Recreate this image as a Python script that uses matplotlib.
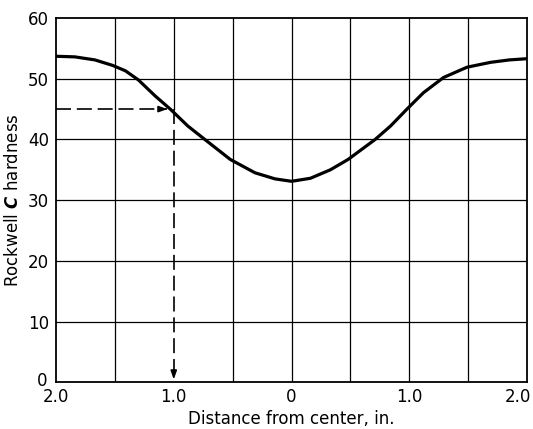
import matplotlib
matplotlib.use('Agg')
from matplotlib import pyplot as plt
from matplotlib.transforms import ScaledTranslation
import numpy as np

# hardness profile across the bar
dist = [-2.0, -1.84, -1.67, -1.52, -1.41, -1.30, -1.16, -1.03, -0.88, -0.73,
        -0.52, -0.31, -0.14, 0.0, 0.16, 0.33, 0.48, 0.71, 0.84, 0.98,
        1.12, 1.29, 1.49, 1.69, 1.85, 2.0]
hardness = [53.7, 53.6, 53.1, 52.2, 51.3, 49.8, 47.2, 45.0, 42.2, 39.9,
            36.7, 34.5, 33.5, 33.1, 33.6, 35.0, 36.7, 40.0, 42.2, 45.0,
            47.7, 50.2, 51.9, 52.7, 53.1, 53.3]

x_ticks = [-2, -1, 0, 1, 2]
x_labels = ['2.0', '1.0', '0', '1.0', '2.0']
y_ticks = [0, 10, 20, 30, 40, 50, 60]

# reading example: 45 HRC -> 1.0 in. from center
read_y = 45
read_x = -1.0

plt.rcParams['font.family'] = ['DejaVu Sans']
fig = plt.figure(figsize=(5.33, 4.29), dpi=100)
ax = fig.add_axes([0.105, 0.109, 0.884, 0.849])

ax.set_xlim(-2, 2)
ax.set_ylim(0, 60)

# grid drawn by hand: the line at the read-off point is dashed below the curve
for gx in np.arange(-1.5, 2.0, 0.5):
    if gx == read_x:
        ax.axvline(gx, ymin=read_y / 60, color='black', lw=0.9, zorder=1)
    else:
        ax.axvline(gx, color='black', lw=0.9, zorder=1)
for gy in y_ticks[1:-1]:
    ax.axhline(gy, color='black', lw=0.9, zorder=1)

ax.plot(dist, hardness, color='black', lw=2.3, solid_capstyle='round',
        solid_joinstyle='round', zorder=3)

# dashed reading lines with arrowheads
ax.plot([-2, read_x - 0.06], [read_y, read_y], color='black', lw=1.2, dashes=(9, 3.5))
ax.plot([read_x, read_x], [read_y, 1.5], color='black', lw=1.2, dashes=(9, 3.5))
ax.annotate('', xy=(read_x - 0.03, read_y), xytext=(read_x - 0.15, read_y),
            arrowprops=dict(arrowstyle='-|>,head_length=0.5,head_width=0.18',
                            color='black', lw=1.2))
ax.annotate('', xy=(read_x, 0), xytext=(read_x, 2.5),
            arrowprops=dict(arrowstyle='-|>,head_length=0.5,head_width=0.18',
                            color='black', lw=1.2))

ax.set_xticks(x_ticks)
ax.set_xticklabels(x_labels)
ax.set_yticks(y_ticks)
ax.tick_params(which='both', length=0, labelsize=12)
ax.tick_params(axis='x', pad=4)
ax.tick_params(axis='y', pad=5)
for s in ax.spines.values():
    s.set_linewidth(1.3)

# keep the right-hand "2.0" inside the figure
last = ax.get_xticklabels()[-1]
last.set_transform(last.get_transform() + ScaledTranslation(-0.09, 0, fig.dpi_scale_trans))
# lift the y "0" a little clear of the x "2.0"
zero = ax.get_yticklabels()[0]
zero.set_transform(zero.get_transform() + ScaledTranslation(-0.02, 0.03, fig.dpi_scale_trans))

ax.set_xlabel('Distance from center, in.', fontsize=12, labelpad=3)
ax.set_ylabel(r'Rockwell $\mathbfit{C}$ hardness', fontsize=12, labelpad=4)

fig.savefig('out.png', dpi=100)
